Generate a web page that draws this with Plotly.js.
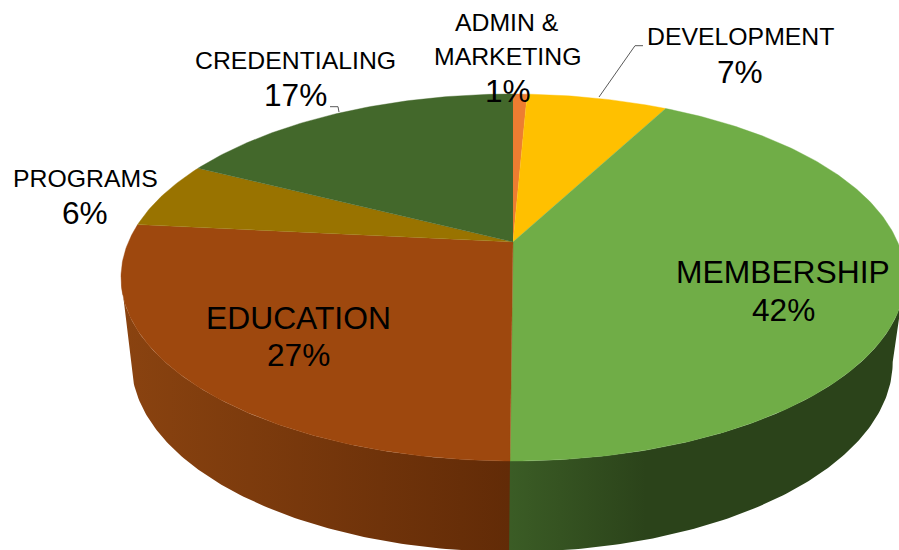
<!DOCTYPE html>
<html>
<head>
<meta charset="utf-8">
<script src="https://cdn.plot.ly/plotly-3.0.1.min.js"></script>
<style>html,body{margin:0;padding:0;background:#fff;overflow:hidden}#chart{width:899px;height:550px}</style>
</head>
<body>
<div id="chart"></div>
<script>
// Data (clockwise from 12 o'clock)
const categories = ["ADMIN &<br>MARKETING", "DEVELOPMENT", "MEMBERSHIP", "EDUCATION", "PROGRAMS", "CREDENTIALING"];
const shares = [0.7, 7.0, 42.4, 26.5, 5.91, 17.49];

// Styles
const topColors = ["#ED7D31", "#FFC000", "#70AD47", "#9E480E", "#997300", "#43682B"];
const sideFrom = ["#8a4a20", "#a67d00", "#3c5e26", "#8a4310", "#6b5000", "#2f4a1e"];
const sideTo = ["#8a4a20", "#a67d00", "#2b431a", "#622b07", "#6b5000", "#2f4a1e"];
const nameFont = [24.8, 24.8, 31.8, 31.8, 24.8, 24.8];
const pctFont = [31.6, 31.6, 31.6, 31.6, 31.6, 31.6];
const nameAt = [[507, 39], [740, 36.5], [783, 272], [298, 318], [85, 178], [295, 60.5]];
const pctAt = [[508, 91], [740, 71.5], [783, 310], [298, 355], [85, 213], [295, 95]];

// Tilted-disc projection: a circle seen in perspective
const K = 0.1935;
const upper = {cx: 513, A: 384.6, a: -129.8, b: 242};
const lower = {cx: 512, A: 373.5, a: -119.9, b: 325.2};
function project(d, pct) {
  const t = pct / 100 * 2 * Math.PI, u = Math.sin(t), v = Math.cos(t), w = 1 + K * v;
  return [d.cx + d.A * u / w, (d.a * v + d.b) / w];
}
function arc(d, from, to) {
  const n = Math.max(2, Math.ceil((to - from) / 0.2)), pts = [];
  for (let i = 0; i <= n; i++) pts.push(project(d, from + (to - from) * i / n));
  return pts;
}
// the rim is only visible between the two widest points of the disc
const rimFrom = Math.acos(-K) / (2 * Math.PI) * 100, rimTo = 100 - rimFrom;
const seamOverlap = 0.3;

const sideTraces = [], topTraces = [];
let start = 0;
shares.forEach((s, i) => {
  const end = start + s;
  const f = Math.max(start, rimFrom), g = Math.min(end + seamOverlap, rimTo);
  if (g > f + seamOverlap) {
    const side = arc(upper, f, g).concat(arc(lower, f, g).reverse());
    const xs = side.map(p => p[0]);
    const lo = Math.min(...xs), hi = Math.max(...xs);
    sideTraces.push({
      type: "scatter", mode: "lines", x: xs, y: side.map(p => p[1]),
      fill: "toself", line: {width: 0},
      fillgradient: {
        type: "horizontal",
        start: lo,
        stop: lo + (hi - lo) * (start < 25 ? 0.36 : 1),
        colorscale: [[0, sideFrom[i]], [1, sideTo[i]]]
      },
      hoverinfo: "skip", showlegend: false
    });
  }
  const wedge = [[upper.cx, upper.b]].concat(arc(upper, start, end));
  topTraces.push({
    type: "scatter", mode: "lines", x: wedge.map(p => p[0]), y: wedge.map(p => p[1]),
    fill: "toself", fillcolor: topColors[i], line: {width: 0.4, color: topColors[i]},
    name: categories[i].replace("<br>", " "), hoverinfo: "name", showlegend: false
  });
  start = end;
});
const traces = sideTraces.concat(topTraces);

const annotations = [];
const ann = (text, at, size) => annotations.push({
  text, x: at[0], y: at[1], xref: "x", yref: "y", showarrow: false,
  xanchor: "center", yanchor: "middle", align: "center",
  font: {family: "Liberation Sans, Arial, sans-serif", size, color: "#000"}
});
categories.forEach((c, i) => {
  if (i === 0) {
    ann("ADMIN &", [507, 22], nameFont[i]);
    ann("MARKETING", [507, 56], nameFont[i]);
  } else ann(c, nameAt[i], nameFont[i]);
  ann(Math.round(shares[i]) + "%", pctAt[i], pctFont[i]);
});

const leader = {color: "#595959", width: 1};
Plotly.newPlot("chart", traces, {
  width: 899, height: 550,
  margin: {l: 0, r: 0, t: 0, b: 0},
  paper_bgcolor: "#fff", plot_bgcolor: "#fff",
  xaxis: {range: [0, 899], visible: false, fixedrange: true},
  yaxis: {range: [550, 0], visible: false, fixedrange: true},
  showlegend: false,
  annotations,
  shapes: [
    {type: "path", path: "M599,97 L635,45.7 L643,45.7", xref: "x", yref: "y", line: leader},
    {type: "path", path: "M339,112 L338,106.7 L330,106.7", xref: "x", yref: "y", line: leader}
  ]
}, {displayModeBar: false, staticPlot: true});
</script>
</body>
</html>
